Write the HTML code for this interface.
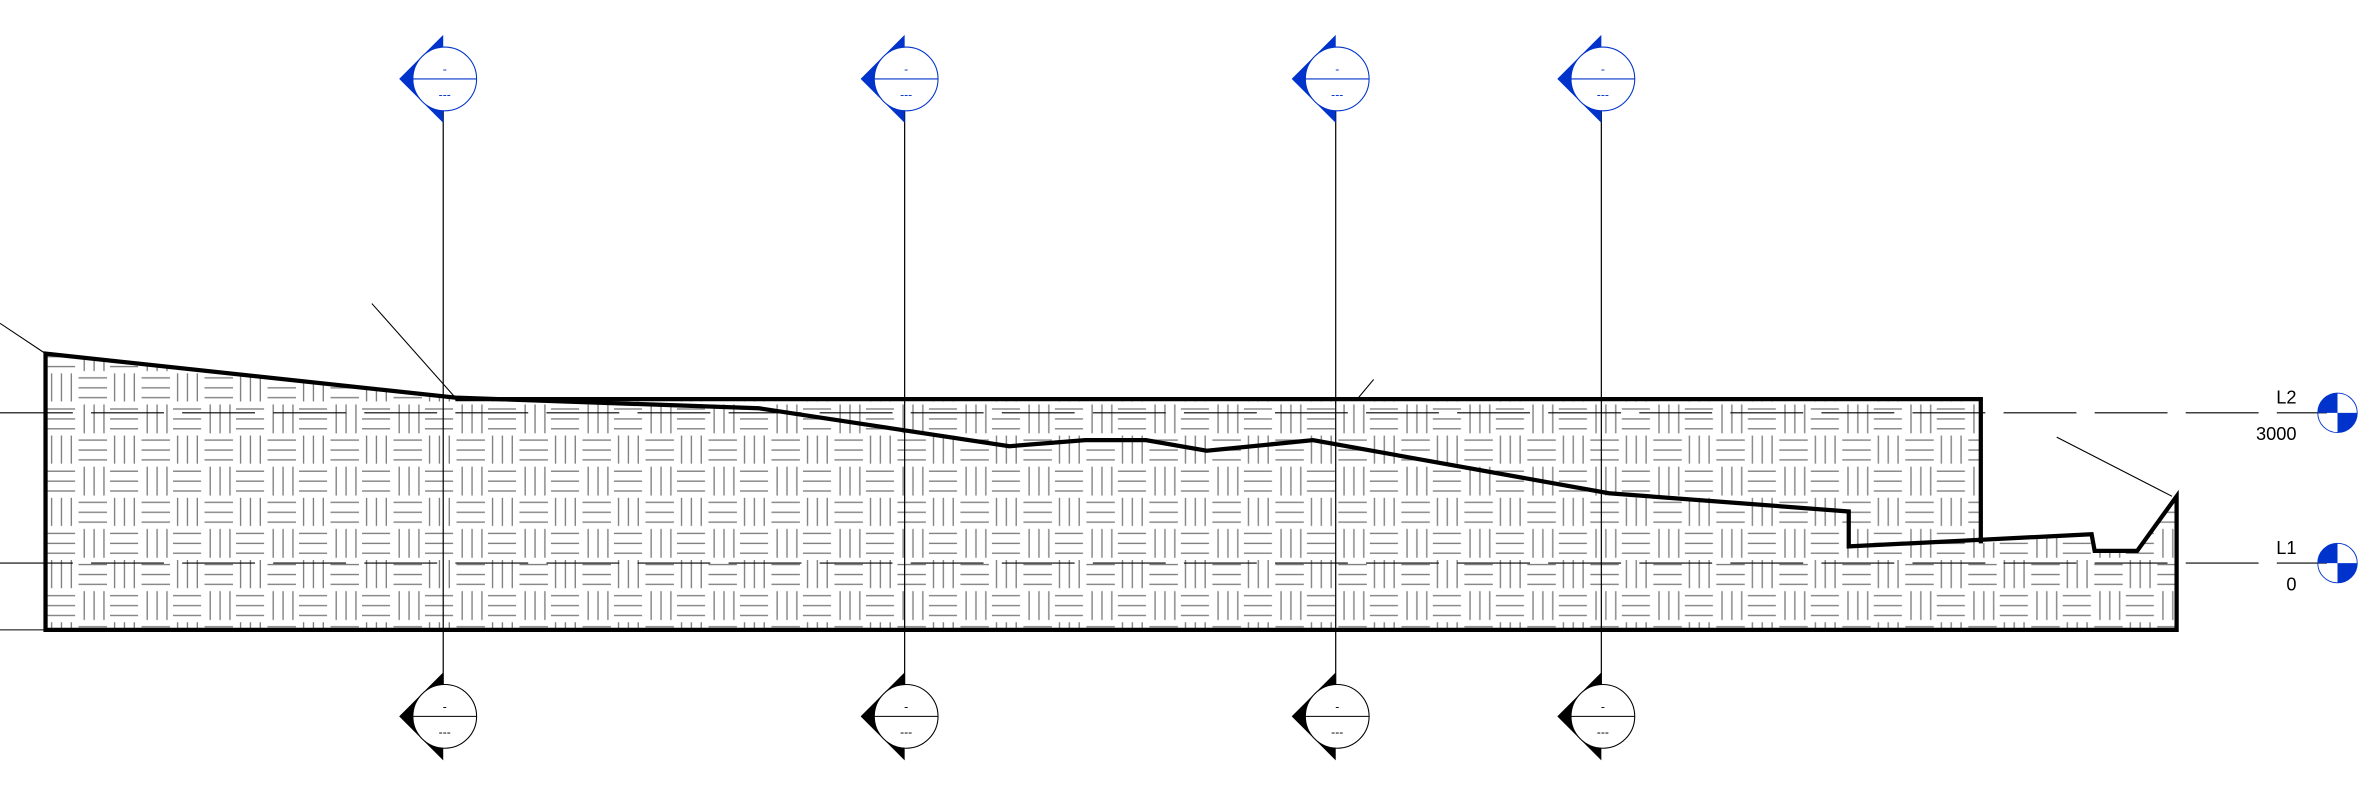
<!DOCTYPE html>
<html><head><meta charset="utf-8"><style>
html,body{margin:0;padding:0;background:#fff;}
svg{display:block;}
text{font-family:"Liberation Sans",sans-serif;}
</style></head><body>
<svg id="c" width="2380" height="788" viewBox="0 0 1568 519.2" preserveAspectRatio="none" xmlns="http://www.w3.org/2000/svg">
<defs>
<pattern id="weave" patternUnits="userSpaceOnUse" x="30" y="245" width="41.5" height="41" >
<g stroke="#808080" stroke-width="0.9" fill="none">
<path d="M4,1V19.5M10.5,1V19.5M17,1V19.5"/>
<path d="M21.75,4H40.5M21.75,10.5H40.5M21.75,17H40.5"/>
<path d="M1,24.5H19.5M1,31H19.5M1,37.5H19.5"/>
<path d="M25.5,21.5V40.5M32,21.5V40.5M38.5,21.5V40.5"/>
</g>
</pattern>
</defs>
</svg>
<script>
const levelNames=["L2","L1"];
const levelElev=["3000","0"];
const levelY=[272,371];
const gridX=[292,596,880,1055];
const profileX=[30,300,500,665,715,755,795,865,1060,1218,1218,1378,1380,1408,1434];
const profileY=[233,262,269,294,290,290,297,290,325,337,360,352,363,363,327];
const NS="http://www.w3.org/2000/svg";
const svg=document.getElementById('c');
function el(t,a,p){const e=document.createElementNS(NS,t);for(const k in a)e.setAttribute(k,a[k]);(p||svg).appendChild(e);return e;}
const fill=el('path',{d:"M30,233 L300,262 L300,263 L1305,263 L1305,358 L1378,352 L1380,363 L1408,363 L1434,327 L1434,415 L30,415 Z",fill:"url(#weave)"});


levelY.forEach((y,i)=>{
  const l=el('line',{x1:0,y1:y,x2:1533,y2:y,stroke:"#000","stroke-width":0.7,"stroke-dasharray":"48,12"});
  
  
});
gridX.forEach((x,i)=>{
  const l=el('line',{x1:x,y1:73,x2:x,y2:451,stroke:"#000","stroke-width":0.8});
  
  
});
[[0,213,30,233],[245,200,300,262],[895,262,905,250],[1355,288,1431,327],[0,415,30,415]].forEach((s,i)=>{
  const l=el('line',{x1:s[0],y1:s[1],x2:s[2],y2:s[3],stroke:"#000","stroke-width":0.7});
  
  
});
const r=el('path',{d:"M300,263 L1305,263 L1305,358",fill:"none",stroke:"#000","stroke-width":2.8});


let d=profileX.map((x,i)=>(i?'L':'M')+x+','+profileY[i]).join(' ');
d+=" L1434,415 L30,415 Z";
const p=el('path',{d:d,fill:"none",stroke:"#000","stroke-width":2.8,"stroke-linejoin":"miter"});


function head(x,y,color,name){
  const g=el('g',{});
  
  
  el('polygon',{points:`${x-29},${y} ${x},${y-29} ${x},${y+29}`,fill:color},g);
  el('circle',{cx:x+1,cy:y,r:21,fill:"#fff",stroke:color,"stroke-width":0.7},g);
  el('line',{x1:x-20,y1:y,x2:x+22,y2:y,stroke:color,"stroke-width":0.7},g);
  const t1=el('text',{x:x+1,y:y-4,"font-size":8,"text-anchor":"middle",fill:color},g);t1.textContent="-";
  const t2=el('text',{x:x+1,y:y+13,"font-size":8,"text-anchor":"middle",fill:color},g);t2.textContent="---";
}
gridX.forEach((x,i)=>{head(x,52,"#0033cc","grid-head-top-"+(i+1));head(x,472,"#000","grid-head-bottom-"+(i+1));});
levelY.forEach((y,i)=>{
  const g=el('g',{});
  
  
  const cx=1540,rr=13;
  el('path',{d:`M${cx},${y} L${cx-rr},${y} A${rr},${rr} 0 0 1 ${cx},${y-rr} Z`,fill:"#0033cc"},g);
  el('path',{d:`M${cx},${y} L${cx+rr},${y} A${rr},${rr} 0 0 1 ${cx},${y+rr} Z`,fill:"#0033cc"},g);
  el('circle',{cx:cx,cy:y,r:rr,fill:"none",stroke:"#0033cc","stroke-width":0.6},g);
  const a=el('text',{x:1513,y:y-6,"font-size":12,"text-anchor":"end",fill:"#000"},g);a.textContent=levelNames[i];
  const b=el('text',{x:1513,y:y+18,"font-size":12,"text-anchor":"end",fill:"#000"},g);b.textContent=levelElev[i];
});
</script>
</body></html>
